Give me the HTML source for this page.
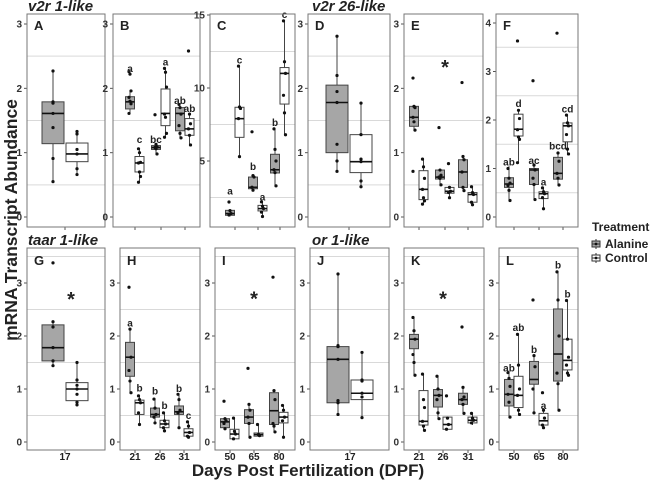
<!DOCTYPE html>
<html><head><meta charset="utf-8">
<style>
body{margin:0;background:#fff;}
svg{display:block;font-family:"Liberation Sans",sans-serif;}
</style></head>
<body>
<svg id="fig" width="657" height="481" viewBox="0 0 657 481">
<text x="28" y="11" font-size="15" font-weight="bold" font-style="italic" fill="#222">v2r 1-like</text>
<text x="312" y="11" font-size="15" font-weight="bold" font-style="italic" fill="#222">v2r 26-like</text>
<text x="28" y="245" font-size="15" font-weight="bold" font-style="italic" fill="#222">taar 1-like</text>
<text x="312" y="245" font-size="15" font-weight="bold" font-style="italic" fill="#222">or 1-like</text>
<text transform="translate(17,220) rotate(-90)" text-anchor="middle" font-size="17.5" font-weight="bold" fill="#222">mRNA Transcript Abundance</text>
<text x="308" y="476" text-anchor="middle" font-size="17" font-weight="bold" fill="#222">Days Post Fertilization (DPF)</text>
<g>
<text x="592" y="231" font-size="12" font-weight="bold" fill="#222">Treatment</text>
<g>
<line x1="596" y1="239" x2="596" y2="249" stroke="#333"/><rect x="592" y="241" width="8" height="6" fill="#a6a6a6" stroke="#333"/><line x1="592" y1="244" x2="600" y2="244" stroke="#333"/><circle cx="596" cy="244" r="1.4" fill="#111"/>
<text x="605" y="248" font-size="12" font-weight="bold" fill="#222">Alanine</text></g>
<g>
<line x1="596" y1="253" x2="596" y2="263" stroke="#333"/><rect x="592" y="255" width="8" height="6" fill="#fff" stroke="#333"/><line x1="592" y1="258" x2="600" y2="258" stroke="#333"/><circle cx="596" cy="258" r="1.4" fill="#111"/>
<text x="605" y="262" font-size="12" font-weight="bold" fill="#222">Control</text></g>
</g>
</svg>
<script>
// ---- data (box stats: [lo, q1, median, q3, hi]) ----
const statsA=[[0.55,1.14,1.61,1.79,2.29],[0.66,0.86,0.98,1.15,1.35]];
const ptsA=[[2.27,1.79,1.77,1.61,1.39,0.91,0.55],[1.33,1.29,1.05,0.98,0.75,0.66]];
const statsB=[[1.61,1.68,1.79,1.87,1.96],[0.54,0.70,0.84,0.94,1.06],[0.98,1.05,1.08,1.11,1.13],[1.23,1.42,1.61,1.99,2.31],[1.23,1.34,1.61,1.70,1.75],[1.12,1.27,1.37,1.53,1.60]];
const ptsB=[[2.26,2.22,1.96,1.86,1.80,1.76,1.61],[1.06,1.00,0.85,0.84,0.70,0.63,0.54],[1.59,1.13,1.09,1.08,1.06,0.98],[2.31,2.25,2.02,1.60,1.55,1.30,1.24],[1.75,1.70,1.60,1.42,1.30,1.23],[2.58,1.60,1.45,1.37,1.27,1.12]];
const lettersB=["a","c","bc","a","ab","ab"];
const letterYB=[2.3,1.2,1.2,2.4,1.8,1.68];
const statsC=[[1.2,1.28,1.4,1.62,1.7],[5.3,6.62,7.9,8.68,11.5],[3.0,3.1,3.2,3.9,4.0],[1.2,1.58,1.74,1.96,2.2],[3.3,4.18,4.4,5.46,7.2],[6.8,8.9,11.0,11.4,14.6]];
const ptsC=[[2.19,1.6,1.4,1.3],[11.5,8.7,8.6,7.9,5.3],[7.0,4.0,3.9,3.2,3.0],[2.2,1.9,1.74,1.5,1.2],[7.2,5.8,5.0,4.4,4.2,3.3],[14.6,11.8,11.0,9.5,8.3,6.8]];
const lettersC=["a","c","b","a","b","c"];
const letterYC=[2.9,11.9,4.6,2.5,7.6,15.0];
const statsD=[[0.71,1.0,1.78,2.05,2.81],[0.47,0.69,0.86,1.28,1.77]];
const ptsD=[[2.81,2.2,1.95,1.78,1.13,0.87,0.71],[1.77,1.28,0.9,0.86,0.56,0.47]];
const statsE=[[1.35,1.41,1.55,1.72,1.73],[0.2,0.27,0.43,0.72,0.9],[0.48,0.59,0.62,0.73,0.73],[0.3,0.37,0.4,0.46,0.46],[0.41,0.46,0.7,0.89,0.94],[0.19,0.23,0.35,0.38,0.47]];
const ptsE=[[2.16,1.72,1.7,1.55,1.48,1.35,0.71],[0.9,0.78,0.6,0.43,0.3,0.25,0.2],[1.39,0.73,0.65,0.62,0.6,0.5],[0.83,0.46,0.4,0.38,0.3],[2.09,0.94,0.89,0.7,0.46,0.41],[0.47,0.38,0.35,0.23,0.19]];
const statsF=[[0.34,0.61,0.68,0.81,1.05],[1.12,1.67,1.81,2.12,2.22],[0.36,0.67,0.97,1.0,1.07],[0.17,0.38,0.48,0.52,0.6],[0.66,0.78,0.9,1.23,1.32],[1.3,1.55,1.88,1.94,2.1]];
const ptsF=[[1.0,0.8,0.7,0.65,0.55,0.34],[3.63,2.2,2.03,1.8,1.65,1.6,1.12],[2.81,1.07,0.97,0.8,0.67,0.36],[0.6,0.52,0.48,0.4,0.17],[3.79,1.32,1.15,0.9,0.8,0.66],[2.1,1.94,1.88,1.7,1.4,1.3]];
const lettersF=["ab","d","ac","a","bcd","cd"];
const letterYF=[1.12,2.33,1.15,0.71,1.45,2.22];
const statsG=[[1.44,1.53,1.78,2.21,2.29],[0.68,0.78,1.0,1.12,1.5]];
const ptsG=[[3.38,2.27,2.17,1.78,1.53,1.44],[1.5,1.17,1.07,1.0,0.9,0.75,0.7]];
const statsH=[[0.93,1.24,1.6,1.88,2.13],[0.33,0.52,0.74,0.79,0.87],[0.36,0.47,0.52,0.64,0.81],[0.21,0.27,0.34,0.41,0.55],[0.27,0.52,0.57,0.68,0.9],[0.09,0.11,0.18,0.25,0.38]];
const ptsH=[[2.92,2.13,1.6,1.35,1.15,0.93],[0.87,0.8,0.74,0.55,0.33],[0.81,0.64,0.52,0.47,0.36],[0.55,0.4,0.34,0.27,0.21],[0.9,0.8,0.6,0.55,0.27],[0.38,0.3,0.18,0.11,0.09]];
const lettersH=["a","b","b","b","b","c"];
const letterYH=[2.24,1.01,0.95,0.68,1.0,0.49];
const statsI=[[0.25,0.27,0.38,0.44,0.47],[0.05,0.06,0.15,0.24,0.45],[0.09,0.35,0.47,0.61,0.71],[0.11,0.11,0.14,0.17,0.33],[0.19,0.33,0.59,0.93,0.97],[0.09,0.36,0.47,0.56,0.69]];
const ptsI=[[0.77,0.44,0.4,0.35,0.25],[0.45,0.2,0.15,0.06],[1.39,0.71,0.6,0.47,0.35,0.09],[0.33,0.14,0.12],[3.11,0.97,0.8,0.35,0.3,0.19],[0.69,0.6,0.47,0.4,0.09]];
const statsJ=[[0.52,0.74,1.56,1.8,3.17],[0.46,0.8,0.92,1.17,1.69]];
const ptsJ=[[3.17,1.82,1.8,1.56,0.78,0.74,0.52],[1.69,1.17,1.15,0.92,0.85,0.46]];
const statsK=[[1.26,1.76,1.94,2.03,2.35],[0.22,0.32,0.39,0.97,1.28],[0.44,0.66,0.88,0.99,1.24],[0.24,0.24,0.33,0.47,0.47],[0.54,0.71,0.8,0.92,1.03],[0.32,0.36,0.41,0.47,0.54]];
const ptsK=[[2.35,2.1,1.94,1.65,1.5,1.26],[1.28,0.8,0.65,0.39,0.3,0.22],[1.24,1.0,0.88,0.8,0.55,0.44],[0.87,0.45,0.33,0.24],[2.17,1.03,0.85,0.8,0.71,0.54],[0.54,0.45,0.41,0.36]];
const statsL=[[0.47,0.68,0.9,1.18,1.31],[0.52,0.65,0.88,1.24,2.03],[0.55,1.09,1.18,1.52,1.63],[0.27,0.32,0.4,0.54,0.6],[0.6,1.15,1.66,2.51,3.21],[1.26,1.36,1.54,1.94,2.67]];
const ptsL=[[1.31,1.2,1.05,0.9,0.75,0.47],[2.03,1.45,1.0,0.88,0.6,0.52],[2.68,1.63,1.42,1.0,0.55],[0.93,0.6,0.45,0.32,0.27],[3.21,2.68,2.0,1.3,1.1,0.6],[2.67,1.94,1.6,1.45,1.3,1.26]];
const lettersL=["ab","ab","b","a","b","b"];
const letterYL=[1.39,2.15,1.74,0.68,3.33,2.78];
const stars={E:2.36,G:2.74,I:2.75,K:2.75};
// ---- layout ----
const P=[
 {id:"A",x0:27,x1:105,top:14,bot:227,zero:217,ppu:64.33,ticks:[0,1,2,3],grid:[0.5,1.5,2.5],gx:[65],lab:["17"],show:false,stats:statsA,pts:ptsA,wide:true},
 {id:"B",x0:113,x1:200,top:14,bot:227,zero:217,ppu:64.33,ticks:[0,1,2,3],grid:[0.5,1.5,2.5],gx:[135,161,185],lab:["21","26","31"],show:false,stats:statsB,pts:ptsB,let:lettersB,ly:letterYB},
 {id:"C",x0:210,x1:295,top:14,bot:227,zero:234,ppu:14.6,ticks:[5,10,15],grid:[2.5,7.5,12.5],gx:[235,258,280],lab:["50","65","80"],show:false,stats:statsC,pts:ptsC,let:lettersC,ly:letterYC},
 {id:"D",x0:308,x1:390,top:14,bot:227,zero:217,ppu:64.33,ticks:[0,1,2,3],grid:[0.5,1.5,2.5],gx:[349],lab:["17"],show:false,stats:statsD,pts:ptsD,wide:true},
 {id:"E",x0:404,x1:483,top:14,bot:227,zero:217,ppu:64.33,ticks:[0,1,2,3],grid:[0.5,1.5,2.5],gx:[419,445,468],lab:["21","26","31"],show:false,stats:statsE,pts:ptsE},
 {id:"F",x0:496,x1:578,top:14,bot:227,zero:217,ppu:48.5,ticks:[0,1,2,3,4],grid:[0.5,1.5,2.5,3.5],gx:[514,539,563],lab:["50","65","80"],show:false,stats:statsF,pts:ptsF,let:lettersF,ly:letterYF},
 {id:"G",x0:27,x1:105,top:248,bot:450,zero:442,ppu:53,ticks:[0,1,2,3],grid:[0.5,1.5,2.5,3.5],gx:[65],lab:["17"],show:true,stats:statsG,pts:ptsG,wide:true},
 {id:"H",x0:120,x1:200,top:248,bot:450,zero:442,ppu:53,ticks:[0,1,2,3],grid:[0.5,1.5,2.5,3.5],gx:[135,160,184],lab:["21","26","31"],show:true,stats:statsH,pts:ptsH,let:lettersH,ly:letterYH},
 {id:"I",x0:215,x1:295,top:248,bot:450,zero:442,ppu:53,ticks:[0,1,2,3],grid:[0.5,1.5,2.5,3.5],gx:[230,254,279],lab:["50","65","80"],show:true,stats:statsI,pts:ptsI},
 {id:"J",x0:310,x1:389,top:248,bot:450,zero:442,ppu:53,ticks:[0,1,2,3],grid:[0.5,1.5,2.5,3.5],gx:[350],lab:["17"],show:true,stats:statsJ,pts:ptsJ,wide:true},
 {id:"K",x0:404,x1:484,top:248,bot:450,zero:442,ppu:53,ticks:[0,1,2,3],grid:[0.5,1.5,2.5,3.5],gx:[419,443,468],lab:["21","26","31"],show:true,stats:statsK,pts:ptsK},
 {id:"L",x0:499,x1:578,top:248,bot:450,zero:442,ppu:53,ticks:[0,1,2,3],grid:[0.5,1.5,2.5,3.5],gx:[514,539,563],lab:["50","65","80"],show:true,stats:statsL,pts:ptsL,let:lettersL,ly:letterYL}
];
const NS="http://www.w3.org/2000/svg",svg=document.getElementById("fig");
function mk(t,a,par){const e=document.createElementNS(NS,t);for(const k in a)e.setAttribute(k,a[k]);(par||svg).appendChild(e);return e;}
P.forEach(p=>{
 const g=mk("g",{});
 
 
 const y=v=>p.zero-v*p.ppu;
 mk("rect",{x:p.x0,y:p.top,width:p.x1-p.x0,height:p.bot-p.top,fill:"#fff"},g);
 p.grid.forEach(v=>{const yy=y(v);if(yy>p.top&&yy<p.bot){const l=mk("line",{x1:p.x0,x2:p.x1,y1:yy,y2:yy,stroke:"#d9d9d9","stroke-width":1},g);
  
  }});
 p.ticks.forEach(v=>{const yy=y(v);mk("line",{x1:p.x0-3,x2:p.x0,y1:yy,y2:yy,stroke:"#555"},g);
  const t=mk("text",{x:p.x0-5,y:yy+3.5,"text-anchor":"end","font-size":10,"font-weight":"bold",fill:"#333"},g);t.textContent=v;
  
  });
 p.gx.forEach((x,i)=>{mk("line",{x1:x,x2:x,y1:p.bot,y2:p.bot+3,stroke:"#555"},g);
  if(p.show){const t=mk("text",{x:x,y:460,"text-anchor":"middle","font-size":10,"font-weight":"bold",fill:"#222"},g);t.textContent=p.lab[i];
  
  }});
 const bw=p.wide?22:9;
 p.stats.forEach((s,j)=>{
  const gi=Math.floor(j/2),ala=j%2===0;
  const cx=p.wide?(p.gx[0]+(ala?-12:12)):(p.gx[gi]+(ala?-5:4.5));
  const bg=mk("g",{},g);
  
  
  mk("line",{x1:cx,x2:cx,y1:y(s[0]),y2:y(s[4]),stroke:"#444","stroke-width":1},bg);
  mk("rect",{x:cx-bw/2,y:y(s[3]),width:bw,height:Math.max(1,y(s[1])-y(s[3])),fill:ala?"#a6a6a6":"#fff",stroke:"#444","stroke-width":1},bg);
  mk("line",{x1:cx-bw/2,x2:cx+bw/2,y1:y(s[2]),y2:y(s[2]),stroke:"#111","stroke-width":1.6},bg);
  p.pts[j].forEach((v,k)=>{const c=mk("circle",{cx:cx+((k%3)-1)*(p.wide?0:1),cy:y(v),r:1.6,fill:"#111"},bg);
   
   });
  if(p.let){const t=mk("text",{x:cx,y:y(p.ly[j])+3,"text-anchor":"middle","font-size":10,"font-weight":"bold",fill:"#222"},g);t.textContent=p.let[j];
   
   }
 });
 if(stars[p.id]!==undefined){const cx=p.wide?p.gx[0]+6:p.gx[1];const t=mk("text",{x:cx,y:y(stars[p.id])+9,"text-anchor":"middle","font-size":20,"font-weight":"bold",fill:"#222"},g);t.textContent="*";
  
  }
 mk("rect",{x:p.x0,y:p.top,width:p.x1-p.x0,height:p.bot-p.top,fill:"none",stroke:"#777","stroke-width":1},g);
 const lt=mk("text",{x:p.x0+7,y:p.top+(p.top<100?16:17),"font-size":13,"font-weight":"bold",fill:"#222"},g);lt.textContent=p.id;
 
 
});
</script>
</body></html>
